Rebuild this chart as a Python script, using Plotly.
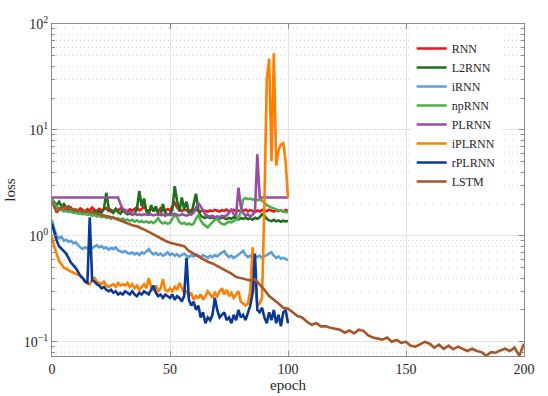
import numpy as np
import plotly.graph_objects as go

names = ["RNN", "L2RNN", "iRNN", "npRNN", "PLRNN", "iPLRNN", "rPLRNN", "LSTM"]
colors = ["#e41a1c", "#1e6e1e", "#5b9fd8", "#4daf4a", "#984ea3", "#ff7f00", "#0a3896", "#a65628"]

rnn = [2.25, 1.95, 1.85, 1.78, 1.82, 1.74, 1.80, 1.76, 1.85, 1.72,
       1.78, 1.74, 1.82, 1.76, 1.70, 1.79, 1.73, 1.85, 1.75, 1.71,
       1.80, 1.74, 1.77, 1.83, 1.72, 1.76, 1.70, 1.79, 1.74, 1.81,
       1.72, 1.75, 1.70, 1.78, 1.73, 1.80, 1.86, 1.74, 1.79, 1.90,
       1.76, 1.72, 1.80, 1.74, 1.77, 1.70, 1.83, 1.75, 1.72, 1.79,
       1.74, 1.90, 2.05, 1.85, 1.76, 1.72, 1.78, 1.74, 1.70, 1.76,
       1.73, 1.78, 1.72, 1.70, 1.75, 1.72, 1.69, 1.74, 1.71, 1.76,
       1.72, 1.70, 1.75, 1.72, 1.77, 1.70, 1.73, 1.76, 1.71, 1.74,
       1.70, 1.73, 1.77, 1.71, 1.75, 1.72, 1.68, 1.74, 1.70, 1.76,
       1.73, 1.71, 1.77, 1.72, 1.70, 1.75, 1.71, 1.74, 1.70, 1.76,
       1.72]

l2rnn = [2.20, 2.05, 1.95, 2.10, 1.90, 2.00, 1.85, 1.90, 1.75, 1.72,
         1.68, 1.70, 1.65, 1.72, 1.66, 1.70, 1.64, 1.68, 1.72, 1.65,
         1.70, 1.66, 1.80, 2.55, 1.85, 1.70, 1.65, 1.80, 1.68, 1.62,
         1.75, 1.66, 1.60, 1.63, 1.58, 1.62, 1.80, 2.65, 1.90, 2.25,
         1.70, 1.60, 1.95, 1.70, 1.90, 1.62, 1.58, 2.00, 1.65, 1.58,
         1.62, 1.75, 2.95, 2.15, 1.70, 2.30, 1.80, 2.10, 1.65, 1.60,
         2.00, 2.50, 1.75, 1.55, 1.50, 1.48, 1.52, 1.47, 1.50, 1.45,
         1.49, 1.46, 1.50, 1.47, 1.44, 1.48, 1.45, 1.50, 1.46, 1.43,
         1.47, 1.45, 1.49, 1.44, 1.46, 1.42, 1.48, 1.45, 1.50, 1.60,
         1.55, 1.45, 1.40, 1.38, 1.42, 1.37, 1.40, 1.36, 1.39, 1.37,
         1.38]

irnn = [1.42, 1.15, 1.00, 0.95, 0.98, 0.90, 0.92, 0.88, 0.90, 0.85,
        0.87, 0.82, 0.78, 0.75, 0.78, 0.76, 0.80, 0.77, 0.79, 0.82,
        0.78, 0.80, 0.76, 0.78, 0.74, 0.77, 0.75, 0.78, 0.73, 0.72,
        0.70, 0.72, 0.69, 0.68, 0.70, 0.67, 0.69, 0.66, 0.70, 0.68,
        0.72, 0.75, 0.70, 0.67, 0.69, 0.66, 0.68, 0.65, 0.67, 0.70,
        0.66, 0.68, 0.65, 0.67, 0.64, 0.66, 0.68, 0.65, 0.63, 0.66,
        0.64, 0.67, 0.65, 0.63, 0.66, 0.64, 0.62, 0.65, 0.63, 0.66,
        0.64, 0.67, 0.70, 0.72, 0.66, 0.63, 0.65, 0.62, 0.64, 0.67,
        0.70, 0.72, 0.66, 0.63, 0.65, 0.62, 0.64, 0.63, 0.65, 0.62,
        0.64, 0.66, 0.68, 0.70, 0.65, 0.62, 0.64, 0.61, 0.62, 0.60,
        0.59]

nprnn = [2.25, 2.00, 1.90, 1.80, 1.75, 1.70, 1.72, 1.68, 1.70, 1.65,
         1.66, 1.62, 1.64, 1.60, 1.62, 1.58, 1.60, 1.55, 1.58, 1.52,
         1.55, 1.50, 1.53, 1.48, 1.50, 1.45, 1.50, 1.44, 1.47, 1.42,
         1.46, 1.40, 1.43, 1.38, 1.42, 1.36, 1.40, 1.35, 1.38, 1.34,
         1.37, 1.33, 1.36, 1.32, 1.38, 1.47, 1.35, 1.31, 1.34, 1.30,
         1.33, 1.45, 1.58, 1.50, 1.35, 1.30, 1.33, 1.28, 1.31, 1.27,
         1.30, 1.45, 1.58, 1.40, 1.30, 1.25, 1.20, 1.28, 1.35, 1.42,
         1.45, 1.35, 1.30, 1.28, 1.32, 1.36, 1.34, 1.38, 1.42, 1.46,
         1.70, 2.20, 2.28, 2.22, 2.25, 2.20, 2.23, 2.18, 2.20, 2.15,
         2.05, 1.95, 1.90, 1.85, 1.82, 1.78, 1.75, 1.72, 1.70, 1.68,
         1.66]

plrnn = [2.30, 2.30, 2.30, 2.30, 2.30, 2.30, 2.30, 2.30, 2.30, 2.30,
         2.30, 2.30, 2.30, 2.30, 2.30, 2.30, 2.30, 2.30, 2.30, 2.30,
         2.30, 2.30, 2.30, 2.30, 2.30, 2.30, 2.30, 2.30, 2.30, 2.00,
         1.80, 1.75, 1.65, 1.68, 1.60, 1.62, 1.58, 1.60, 1.57, 1.60,
         1.58, 1.58, 1.60, 1.56, 1.59, 1.57, 1.62, 1.58, 1.55, 1.60,
         1.57, 1.59, 1.62, 1.58, 1.56, 1.60, 1.57, 1.55, 1.58, 1.60,
         1.65, 1.85, 2.05, 1.90, 1.70, 1.58, 1.55, 1.52, 1.55, 1.50,
         1.53, 1.50, 1.55, 1.52, 1.56, 1.65, 1.80, 1.60, 1.55, 2.85,
         1.90, 1.65, 1.55, 1.60, 1.52, 1.58, 1.70, 5.90, 2.30, 2.30,
         2.30, 2.30, 2.30, 2.30, 2.30, 2.30, 2.30, 2.30, 2.30, 2.30,
         2.30]

iplrnn = [0.98, 0.78, 0.68, 0.58, 0.54, 0.50, 0.49, 0.47, 0.46, 0.45,
          0.44, 0.43, 0.42, 0.40, 0.38, 0.36, 0.35, 0.38, 0.40, 0.37,
          0.36, 0.35, 0.37, 0.34, 0.33, 0.34, 0.35, 0.33, 0.36, 0.34,
          0.35, 0.34, 0.36, 0.33, 0.35, 0.32, 0.34, 0.31, 0.33, 0.35,
          0.32, 0.40, 0.33, 0.31, 0.34, 0.30, 0.32, 0.39, 0.31, 0.30,
          0.32, 0.30, 0.33, 0.31, 0.36, 0.32, 0.29, 0.30, 0.27, 0.29,
          0.25, 0.27, 0.26, 0.28, 0.25, 0.27, 0.30, 0.28, 0.26, 0.29,
          0.27, 0.30, 0.32, 0.28, 0.31, 0.27, 0.29, 0.26, 0.28, 0.30,
          0.24, 0.23, 0.22, 0.23, 0.30, 0.78, 0.35, 0.22, 0.23, 0.26,
          2.0, 30.0, 47.0, 5.1, 53.0, 4.6, 6.5, 7.3, 7.5, 5.0,
          2.28]

rplrnn = [1.30, 1.05, 0.90, 0.80, 0.76, 0.72, 0.68, 0.62, 0.56, 0.53,
          0.50, 0.46, 0.42, 0.40, 0.37, 0.36, 1.50, 0.38, 0.37, 0.35,
          0.34, 0.32, 0.33, 0.31, 0.30, 0.31, 0.29, 0.30, 0.28, 0.29,
          0.28, 0.30, 0.29, 0.28, 0.30, 0.28, 0.27, 0.29, 0.28, 0.30,
          0.29, 0.28, 0.31, 0.34, 0.29, 0.27, 0.28, 0.26, 0.28, 0.27,
          0.26, 0.28, 0.25, 0.27, 0.26, 0.24, 0.27, 0.62, 0.25, 0.22,
          0.24, 0.20, 0.22, 0.17, 0.19, 0.15, 0.17, 0.16, 0.18, 0.26,
          0.20, 0.17, 0.18, 0.19, 0.16, 0.17, 0.15, 0.18, 0.16, 0.20,
          0.17, 0.18, 0.16, 0.19, 0.22, 0.29, 0.68, 0.20, 0.19, 0.21,
          0.17, 0.15, 0.19, 0.16, 0.20, 0.15, 0.18, 0.14, 0.19, 0.20,
          0.15]

lstm_epochs = list(range(0, 201, 2))
lstm = [2.10, 1.65, 1.90, 1.85, 1.80, 1.78, 1.72, 1.70, 1.68, 1.65,
        1.60, 1.57, 1.52, 1.48, 1.42, 1.36, 1.30, 1.26, 1.23, 1.18,
        1.12, 1.06, 1.00, 0.95, 0.90, 0.86, 0.84, 0.82, 0.80, 0.72,
        0.68, 0.64, 0.60, 0.57, 0.55, 0.52, 0.49, 0.47, 0.44, 0.41,
        0.40, 0.39, 0.38, 0.39, 0.35, 0.31, 0.27, 0.25, 0.23, 0.21,
        0.205, 0.19, 0.175, 0.17, 0.155, 0.145, 0.15, 0.14, 0.14, 0.136,
        0.133, 0.13, 0.122, 0.128, 0.12, 0.13, 0.127, 0.115, 0.11, 0.108,
        0.105, 0.11, 0.10, 0.104, 0.098, 0.10, 0.092, 0.09, 0.095, 0.10,
        0.096, 0.088, 0.094, 0.086, 0.092, 0.085, 0.09, 0.086, 0.082, 0.086,
        0.082, 0.08, 0.074, 0.08, 0.079, 0.083, 0.086, 0.082, 0.088, 0.074,
        0.096]

series = [rnn, l2rnn, irnn, nprnn, plrnn, iplrnn, rplrnn, lstm]

x_ticks = [0, 50, 100, 150, 200]
y_ticks = [0.1, 1, 10, 100]
y_ticktext = ["10<sup>\u22121</sup>", "10<sup>0</sup>", "10<sup>1</sup>", "10<sup>2</sup>"]

FONT = "'Liberation Serif', 'Times New Roman', 'DejaVu Serif', serif"

fig = go.Figure()
for name, col, vals in zip(names, colors, series):
    xs = lstm_epochs if name == "LSTM" else list(range(len(vals)))
    fig.add_trace(go.Scatter(x=xs, y=vals, mode="lines", name=name,
                             line=dict(color=col, width=2.6)))

axis_col = "#8a8a8a"
fig.update_layout(
    width=548, height=396,
    margin=dict(l=52, r=24, t=24, b=40),
    paper_bgcolor="white", plot_bgcolor="white",
    font=dict(family=FONT, size=14, color="#262626"),
    showlegend=True,
    legend=dict(x=0.762, y=0.97, xanchor="left", yanchor="top",
                bgcolor="white", borderwidth=0,
                font=dict(family=FONT, size=12, color="#262626"),
                tracegroupgap=0),
    xaxis=dict(range=[0, 200], tickvals=x_ticks, ticks="inside", ticklen=5,
               tickcolor=axis_col, showline=True, linecolor=axis_col, linewidth=1.2,
               mirror="allticks", showgrid=True, gridcolor="#e3e3e3", gridwidth=1,
               zeroline=False, automargin=False,
               tickfont=dict(family=FONT, size=14),
               title=dict(text="epoch", standoff=2, font=dict(family=FONT, size=15))),
    yaxis=dict(type="log", range=[np.log10(0.0735), 2], tickmode="array",
               tickvals=y_ticks, ticktext=y_ticktext, ticks="inside", ticklen=5,
               tickcolor=axis_col, showline=True, linecolor=axis_col, linewidth=1.2,
               mirror="allticks", showgrid=True, gridcolor="#e3e3e3", gridwidth=1,
               zeroline=False, automargin=False,
               tickfont=dict(family=FONT, size=14),
               minor=dict(dtick="D1", ticks="inside", ticklen=3, tickcolor=axis_col,
                          showgrid=True, gridcolor="#d4d4d4", griddash="1px,3px", gridwidth=1),
               title=dict(text="loss", standoff=4, font=dict(family=FONT, size=15))),
)

fig.write_html("out.html", config={"displayModeBar": False},
               post_script="document.body.style.margin='0';")
